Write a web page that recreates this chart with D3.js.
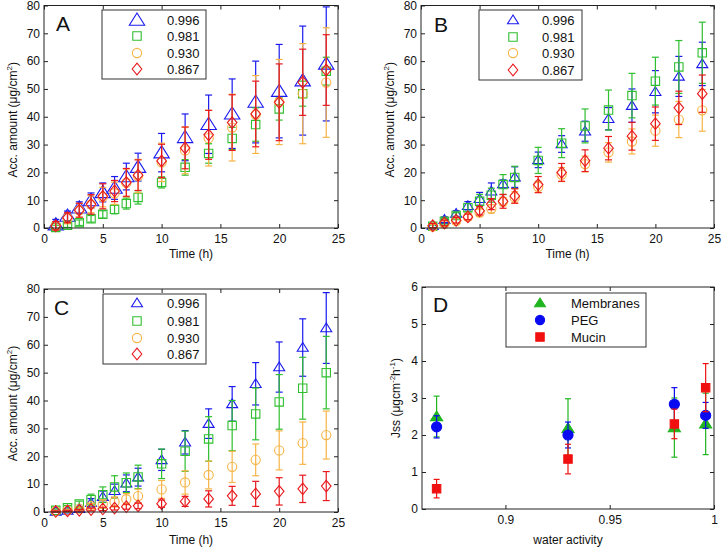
<!DOCTYPE html>
<html><head><meta charset="utf-8">
<script src="https://cdn.jsdelivr.net/npm/d3@7"></script>
<style>body{margin:0;background:#fff}svg{display:block}text{font-family:"Liberation Sans",Arial,sans-serif}</style>
</head><body><svg id="c" width="721" height="548"></svg>
<script>
// ---------- DATA ----------
const time = [1,2,3,4,5,6,7,8,10,12,14,16,18,20,22,24];
const seriesNames = ["0.996","0.981","0.930","0.867"];

// Panel A
const A_996 = [1.2,4.3,7.3,9.9,12.8,14.4,18.5,21.9,27.1,32.6,37.3,41.1,45.3,49.2,53,59];
const A_996_err = [1.9,1.8,2.1,2.7,3.4,4.1,4.8,5,6.9,8.4,10.5,12.5,14.7,16.8,19.6,20.5];
const A_981 = [0.2,1,1.9,3.3,4.9,6.7,8.8,11,16.4,21.8,26.8,32.2,37.2,42.8,48.3,56.4];
const A_981_err = [0.8,0.8,1,1.2,1.3,1.6,2,2.4,2,2.8,3.5,4,6,4,4.5,5];
const A_930 = [0.8,3.5,6.3,8.5,11.1,12.5,16.2,18.7,23.6,27.9,32.3,36.1,40.8,45.3,48.3,52.3];
const A_930_err = [1.5,2,2.5,3,3.5,4,5,6,6.9,8.4,10,12,14,15.3,18,19.7];
const A_867 = [0.8,3.7,6.4,8.5,11.4,13.3,16.4,19,24.1,28.8,33.5,37.9,41,45.2,52.4,56.8];
const A_867_err = [1.5,1.8,2.5,3.5,4.5,3.8,5,5.5,6,7.5,8.8,10,11.8,13.8,11.9,12.7];

// Panel B
const B_996 = [0.8,3,5.2,8,10.5,13.2,15.8,18.3,24.5,30.2,34.8,39.3,44,49,54.5,59];
const B_996_err = [0.8,1,1,1.5,2.3,3,1.5,3.7,2.8,3,3.6,4,6,7.6,7.2,7.8];
const B_981 = [0.6,2.4,4.5,7.3,9.6,11.8,15.6,18.2,24.3,30.5,36.7,42.4,47.6,52.8,57.9,63];
const B_981_err = [0.5,1,1,1.5,2.5,2.5,3.6,4,4.7,5.2,6.1,7.2,8,8.6,9.5,11];
const B_930 = [0.5,1.5,2.5,4,5.5,6.9,9.5,11,14.8,19.2,23,27.2,31.1,35,39,42.3];
const B_930_err = [0.8,1,1,1.2,1.3,1.5,1.5,2,2,2.5,2.8,3.5,4.5,5.6,6.5,7.5];
const B_867 = [0.8,1.8,2.8,4,6.2,8.6,9.6,11.5,15.6,20,24.2,28.7,33,37.5,43.2,48.3];
const B_867_err = [0.8,1,1,1,1.5,2,2.5,2.6,2.9,3.2,3.9,4.2,5,6,6,6.7];

// Panel C
const C_996 = [0.2,0.6,1.2,3.3,5.5,7.6,10.3,12.5,18.7,25,31.7,38.8,46,52,59,66];
const C_996_err = [0.3,0.5,0.8,1.5,2,2.4,3,3.2,3.8,4.2,5.3,6.2,7.6,9,10.3,12.7];
const C_981 = [0.6,1.5,2.9,4.4,6.2,9,10.5,12.6,17.3,21.8,26.2,31,35.2,39.5,44.4,50];
const C_981_err = [0.5,0.8,1,2,2.8,4,3.5,4.2,5.3,7.2,8,9,9.3,9.8,11.1,13];
const C_930 = [0.3,0.6,1.2,2.1,2.8,3.6,4.6,5.7,8.1,10.6,13.3,16.2,18.7,22.1,24.7,27.6];
const C_930_err = [0.3,0.4,0.6,1,1.5,1.8,2,2.5,3.2,4.2,5,5.6,5.7,7,7.6,8.6];
const C_867 = [0.2,0.4,0.6,0.9,1.1,1.4,1.9,2.2,3,3.8,4.7,5.8,6.5,7.4,8.3,9.3];
const C_867_err = [0.2,0.2,0.3,0.5,0.6,0.7,0.9,1,1.3,1.8,2.9,3.4,4.5,4.9,4.9,5.2];

// Panel D
const waterActivity = [0.867,0.930,0.981,0.996];
const dNames = ["Membranes","PEG","Mucin"];
const D_membranes = [2.5,2.18,2.2,2.3];
const D_membranes_err = [0.55,0.8,0.8,0.83];
const D_peg = [2.22,2.0,2.83,2.53];
const D_peg_err = [0.3,0.35,0.45,0.35];
const D_mucin = [0.55,1.35,2.3,3.28];
const D_mucin_err = [0.25,0.4,0.4,0.65];

const timeTicks = [0,5,10,15,20,25];
const accTicks = [0,10,20,30,40,50,60,70,80];
const waTicks = [0.9,0.95,1];
const jssTicks = [0,1,2,3,4,5,6];

// ---------- STYLE ----------
const COL = {blue:"#1a1aee", green:"#2fbf2f", orange:"#f7b446", red:"#e8181c"};
const DCOL = {green:"#1fb51f", blue:"#0a0af0", red:"#f01010"};
const svg = d3.select("#c");
const FONT = 12;
const FF = "'Liberation Sans', Arial, sans-serif";

function markerPath(type, s){
  const p = d3.path();
  if(type==="tri"){ const w=s*0.55, h=s*0.5; p.moveTo(0,-h); p.lineTo(w,h*0.75); p.lineTo(-w,h*0.75); p.closePath(); }
  else if(type==="sq"){ const h=s*0.42; p.rect(-h,-h,2*h,2*h); }
  else if(type==="circ"){ const r=s*0.46; p.moveTo(r,0); p.arc(0,0,r,0,2*Math.PI); }
  else if(type==="dia"){ const w=s*0.48,h=s*0.58; p.moveTo(0,-h); p.lineTo(w,0); p.lineTo(0,h); p.lineTo(-w,0); p.closePath(); }
  return p.toString();
}

function frame(g, x, y, xt, yt){
  const [x0,x1]=x.range(), [y0,y1]=y.range();
  const fmt = d=>String(d);
  g.append("g").attr("transform",`translate(0,${y0})`)
    .call(d3.axisBottom(x).tickValues(xt).tickSize(-4).tickPadding(6).tickFormat(fmt));
  g.append("g").attr("transform",`translate(0,${y1})`)
    .call(d3.axisTop(x).tickValues(xt).tickSize(-4).tickFormat(""));
  g.append("g").attr("transform",`translate(${x0},0)`)
    .call(d3.axisLeft(y).tickValues(yt).tickSize(-4).tickPadding(4).tickFormat(fmt));
  g.append("g").attr("transform",`translate(${x1},0)`)
    .call(d3.axisRight(y).tickValues(yt).tickSize(-4).tickFormat(""));
  g.selectAll(".domain").remove();
  g.selectAll(".tick line").attr("stroke","#222");
  g.selectAll(".tick text").attr("font-size",FONT).attr("fill","#111").attr("font-family",FF);
  g.append("rect").attr("x",x0).attr("y",y1).attr("width",x1-x0).attr("height",y0-y1)
    .attr("fill","none").attr("stroke","#222").attr("stroke-width",1);
}

function drawSeries(g, x, y, xs, vals, errs, color, type, size, filled, cap){
  const s = g.append("g");
  xs.forEach((t,i)=>{
    const cx=x(t), top=y(vals[i]+errs[i]), bot=y(vals[i]-errs[i]);
    s.append("line").attr("x1",cx).attr("x2",cx).attr("y1",top).attr("y2",bot).attr("stroke",color).attr("stroke-width",1.2);
    s.append("line").attr("x1",cx-cap).attr("x2",cx+cap).attr("y1",top).attr("y2",top).attr("stroke",color).attr("stroke-width",1.2);
    s.append("line").attr("x1",cx-cap).attr("x2",cx+cap).attr("y1",bot).attr("y2",bot).attr("stroke",color).attr("stroke-width",1.2);
  });
  xs.forEach((t,i)=>{
    s.append("path").attr("d",markerPath(type,size)).attr("transform",`translate(${x(t)},${y(vals[i])})`)
      .attr("fill",filled?color:"none").attr("stroke",color).attr("stroke-width",1.1);
  });
}

function legend(g, box, rows, items){
  g.append("rect").attr("x",box[0]).attr("y",box[1]).attr("width",box[2]-box[0]).attr("height",box[3]-box[1])
    .attr("fill","#fff").attr("stroke","#333").attr("stroke-width",1);
  items.forEach((it,i)=>{
    const yy = rows.y[i];
    g.append("path").attr("d",markerPath(it.type,it.size)).attr("transform",`translate(${rows.mx},${yy})`)
      .attr("fill",it.filled?it.color:"none").attr("stroke",it.color).attr("stroke-width",1.1);
    g.append("text").attr("x",rows.tx).attr("y",yy).attr("dy","0.36em").attr("font-size",FONT+1).attr("fill","#111").text(it.label);
  });
}

function panelLabel(g,x,y,t){ g.append("text").attr("x",x).attr("y",y).attr("font-size",21).attr("fill","#111").text(t); }

function yTitleAcc(g, x, cy){
  const t=g.append("text").attr("transform",`translate(${x},${cy}) rotate(-90)`).attr("text-anchor","middle").attr("font-size",FONT).attr("fill","#111");
  t.append("tspan").text("Acc. amount (μg/cm");
  t.append("tspan").attr("font-size",8).attr("dy",-5).text("2");
  t.append("tspan").attr("dy",5).text(")");
}
function xTitle(g, cx, y, s){ g.append("text").attr("x",cx).attr("y",y).attr("text-anchor","middle").attr("font-size",FONT).attr("fill","#111").text(s); }

// ---------- PANELS A-C ----------
const panels = [
  {id:"A", rect:[44,338,228,5.5], data:[[A_996,A_996_err],[A_981,A_981_err],[A_930,A_930_err],[A_867,A_867_err]], tri:14,
   legBox:[102,10,206,79], legRows:{mx:137,tx:167,y:[20,36,53,69]}, lab:[56,31], ytx:17, xty:258},
  {id:"B", rect:[421,714,228,5.5], data:[[B_996,B_996_err],[B_981,B_981_err],[B_930,B_930_err],[B_867,B_867_err]], tri:10,
   legBox:[479,10,582,80], legRows:{mx:513,tx:542,y:[20,37,53,70]}, lab:[434,32], ytx:394, xty:258},
  {id:"C", rect:[44,338,512,289], data:[[C_996,C_996_err],[C_981,C_981_err],[C_930,C_930_err],[C_867,C_867_err]], tri:10,
   legBox:[103,294,206,364], legRows:{mx:137,tx:167,y:[303,321,338,354]}, lab:[54,315], ytx:17, xty:544},
];
const sty = [
  {color:COL.blue,type:"tri"},{color:COL.green,type:"sq"},{color:COL.orange,type:"circ"},{color:COL.red,type:"dia"}
];

panels.forEach(P=>{
  const g = svg.append("g");
  const [x0,x1,y0,y1]=P.rect;
  const x = d3.scaleLinear().domain([0,25]).range([x0,x1]);
  const y = d3.scaleLinear().domain([0,80]).range([y0,y1]);
  const inner = g.append("g");
  P.data.forEach((d,k)=>{
    const size = sty[k].type==="tri"?P.tri:10;
    drawSeries(inner,x,y,time,d[0],d[1],sty[k].color,sty[k].type,size,false,3.5);
  });
  frame(g,x,y,timeTicks,accTicks);
  legend(g,P.legBox,P.legRows,seriesNames.map((n,k)=>({label:n,color:sty[k].color,type:sty[k].type,size:sty[k].type==="tri"?P.tri:10,filled:false})));
  panelLabel(g,P.lab[0],P.lab[1],P.id);
  yTitleAcc(g,P.ytx,(y0+y1)/2+3);
  xTitle(g,(x0+x1)/2,P.xty,"Time (h)");
});

// ---------- PANEL D ----------
(function(){
  const g = svg.append("g");
  const x0=422,x1=714,y0=509,y1=287;
  const x = d3.scaleLinear().domain([0.86,1]).range([x0,x1]);
  const y = d3.scaleLinear().domain([0,6]).range([y0,y1]);
  const inner = g.append("g");
  const ds = [
    [D_membranes,D_membranes_err,DCOL.green,"tri"],
    [D_peg,D_peg_err,DCOL.blue,"circ"],
    [D_mucin,D_mucin_err,DCOL.red,"sq"]
  ];
  ds.forEach(d=>drawSeries(inner,x,y,waterActivity,d[0],d[1],d[2],d[3],d[3]==="tri"?11:d[3]==="circ"?11:10,true,3));
  frame(g,x,y,waTicks,jssTicks);
  legend(g,[506,293,646,347],{mx:540,tx:571,y:[303,320,337]},
    dNames.map((n,k)=>({label:n,color:ds[k][2],type:ds[k][3],size:10,filled:true})));
  panelLabel(g,433,312,"D");
  const t=g.append("text").attr("transform",`translate(400,${(y0+y1)/2}) rotate(-90)`).attr("text-anchor","middle").attr("font-size",FONT).attr("fill","#111");
  t.append("tspan").text("Jss (μgcm");
  t.append("tspan").attr("font-size",8).attr("dy",-5).text("-2");
  t.append("tspan").attr("dy",5).text("h");
  t.append("tspan").attr("font-size",8).attr("dy",-5).text("-1");
  t.append("tspan").attr("dy",5).text(")");
  xTitle(g,(x0+x1)/2,544,"water activity");
})();
</script></body></html>
